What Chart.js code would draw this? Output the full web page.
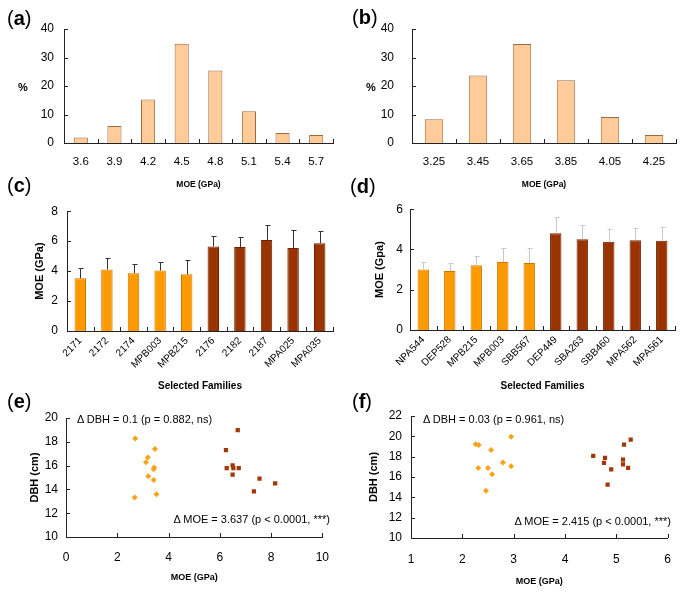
<!DOCTYPE html>
<html>
<head>
<meta charset="utf-8">
<script src="https://cdn.jsdelivr.net/npm/chart.js@4.4.0/dist/chart.umd.min.js"></script>
<style>
  body { margin: 0; background: #fff; width: 685px; height: 593px; position: relative; overflow: hidden;
         font-family: "Liberation Sans", Arial, sans-serif; color: #000; }
  canvas { position: absolute; }
  .lbl { position: absolute; font-size: 20px; line-height: 1; }
  .pct { position: absolute; font-size: 11px; font-weight: bold; line-height: 1; }
  .note { position: absolute; font-size: 11px; line-height: 1; white-space: nowrap; }
</style>
</head>
<body>
<canvas id="ca" width="340" height="195" style="left:0;top:0"></canvas>
<canvas id="cb" width="345" height="195" style="left:340px;top:0"></canvas>
<canvas id="cc" width="340" height="200" style="left:0;top:195px"></canvas>
<canvas id="cd" width="345" height="200" style="left:340px;top:195px"></canvas>
<canvas id="ce" width="342" height="203" style="left:0;top:390px"></canvas>
<canvas id="cf" width="345" height="203" style="left:340px;top:390px"></canvas>

<div class="lbl" style="left:7px;top:8px">(<b>a</b>)</div>
<div class="lbl" style="left:352px;top:7px">(<b>b</b>)</div>
<div class="lbl" style="left:7px;top:175px">(<b>c</b>)</div>
<div class="lbl" style="left:350px;top:176px">(<b>d</b>)</div>
<div class="lbl" style="left:7px;top:391px">(<b>e</b>)</div>
<div class="lbl" style="left:352px;top:391px">(<b>f</b>)</div>
<div class="pct" style="left:18px;top:82px">%</div>
<div class="pct" style="left:366px;top:82px">%</div>
<div class="note" style="left:77px;top:414px">&Delta; DBH = 0.1 (p = 0.882, ns)</div>
<div class="note" style="right:355px;top:514px">&Delta; MOE = 3.637 (p &lt; 0.0001, ***)</div>
<div class="note" style="left:423px;top:414px">&Delta; DBH = 0.03 (p = 0.961, ns)</div>
<div class="note" style="right:14px;top:516px">&Delta; MOE = 2.415 (p &lt; 0.0001, ***)</div>

<script>
// (a) / (b) MOE distributions, % of trees
const histALabels = ['3.6', '3.9', '4.2', '4.5', '4.8', '5.1', '5.4', '5.7'];
const histAValues = [1.9, 6.0, 15.3, 34.8, 25.4, 11.1, 3.5, 2.8];
const histBLabels = ['3.25', '3.45', '3.65', '3.85', '4.05', '4.25'];
const histBValues = [8.3, 23.7, 34.7, 22.0, 9.1, 2.8];

// (c) / (d) selected families, mean MOE and SD
const famC = ['2171', '2172', '2174', 'MPB003', 'MPB215', '2176', '2182', '2187', 'MPA025', 'MPA035'];
const moeC = [3.52, 4.10, 3.86, 4.04, 3.79, 5.65, 5.61, 6.07, 5.55, 5.86];
const sdC  = [0.69, 0.76, 0.60, 0.55, 0.94, 0.69, 0.66, 1.02, 1.21, 0.79];
const grpC = ['low', 'low', 'low', 'low', 'low', 'high', 'high', 'high', 'high', 'high'];
const famD = ['NPA544', 'DEP528', 'MPB215', 'MPB003', 'SBB567', 'DEP449', 'SBA263', 'SBB460', 'MPA562', 'MPA561'];
const moeD = [3.00, 2.93, 3.22, 3.38, 3.33, 4.80, 4.51, 4.38, 4.46, 4.43];
const sdD  = [0.36, 0.38, 0.48, 0.67, 0.72, 0.81, 0.70, 0.66, 0.63, 0.70];
const grpD = ['low', 'low', 'low', 'low', 'low', 'high', 'high', 'high', 'high', 'high'];

// (e) / (f) DBH vs MOE for low and high groups
const eLowMoe  = [2.70, 3.47, 3.19, 3.12, 3.44, 3.42, 3.21, 3.42, 3.53, 2.68];
const eLowDbh  = [18.27, 17.40, 16.68, 16.29, 15.85, 15.69, 15.10, 14.79, 13.60, 13.32];
const eHighMoe = [6.70, 6.24, 6.27, 6.50, 6.53, 6.74, 6.50, 7.55, 8.16, 7.33];
const eHighDbh = [18.99, 17.31, 15.79, 16.02, 15.79, 15.79, 15.24, 14.91, 14.50, 13.84];
const fLowMoe  = [2.26, 2.32, 2.95, 2.56, 2.79, 2.31, 2.50, 2.95, 2.58, 2.46];
const fLowDbh  = [19.22, 19.15, 19.97, 18.66, 17.42, 16.89, 16.89, 17.06, 16.27, 14.64];
const fHighMoe = [4.55, 4.78, 4.76, 4.90, 4.83, 5.13, 5.13, 5.15, 5.28, 5.23];
const fHighDbh = [18.07, 17.87, 17.38, 16.76, 15.26, 17.71, 17.25, 19.19, 19.68, 16.89];

const ORANGE = '#ff9900', BROWN = '#993300', PEACH = '#ffcc99', AXIS = '#222';

Chart.defaults.font.family = '"Liberation Sans", Arial, sans-serif';
Chart.defaults.color = '#000';
Chart.defaults.animation = false;

// excel style tick marks pointing into the plot
const insideTicks = {
  id: 'insideTicks',
  afterDraw(chart) {
    const ctx = chart.ctx, a = chart.chartArea;
    const x = chart.scales.x, y = chart.scales.y;
    let xs = [];
    if (x.type === 'category') {
      const n = x.getLabels().length;
      for (let i = 0; i <= n; i++) xs.push(x.left + x.width * i / n);
    } else {
      xs = x.ticks.map(t => x.getPixelForValue(t.value));
    }
    ctx.save();
    ctx.strokeStyle = AXIS;
    ctx.lineWidth = 1;
    ctx.beginPath();
    xs.forEach(px => {
      px = Math.round(px) + 0.5;
      ctx.moveTo(px, a.bottom);
      ctx.lineTo(px, a.bottom - 4);
    });
    y.ticks.forEach(t => {
      const py = Math.round(y.getPixelForValue(t.value)) + 0.5;
      ctx.moveTo(a.left, py);
      ctx.lineTo(a.left + 4, py);
    });
    ctx.stroke();
    ctx.restore();
  }
};

// upper error bars (+SD)
const errorBars = {
  id: 'errorBars',
  afterDatasetsDraw(chart, args, opts) {
    const ds = chart.data.datasets[0];
    if (!ds.errors) return;
    const ctx = chart.ctx, y = chart.scales.y;
    ctx.save();
    ctx.strokeStyle = opts.color || '#333';
    ctx.lineWidth = 1;
    ctx.beginPath();
    chart.getDatasetMeta(0).data.forEach((bar, i) => {
      const px = Math.round(bar.x) + 0.5;
      const top = Math.round(y.getPixelForValue(ds.data[i] + ds.errors[i])) + 0.5;
      ctx.moveTo(px, bar.y);
      ctx.lineTo(px, top);
      ctx.moveTo(px - 2, top);
      ctx.lineTo(px + 3, top);
    });
    ctx.stroke();
    ctx.restore();
  }
};

function axisBase(size, horizontal) {
  return {
    grid: { display: false, drawTicks: false },
    border: { display: true, color: AXIS, width: 1 },
    afterFit(s) { if (horizontal) s.height = size; else s.width = size; }
  };
}

function xTitle(text, size, bottom) {
  return { display: true, text: text, font: { size: size, weight: 'bold' }, padding: { top: 0, bottom: bottom } };
}
function yTitle(text, size, top) {
  return { display: true, text: text, font: { size: size, weight: 'bold' }, padding: { top: top, bottom: 0 } };
}

function histChart(id, labels, values, pad, yWidth, yPad, xHeight) {
  return new Chart(document.getElementById(id), {
    type: 'bar',
    data: {
      labels: labels,
      datasets: [{
        data: values,
        backgroundColor: PEACH,
        borderColor: '#9a6a45',
        borderWidth: 1,
        barPercentage: 0.42,
        categoryPercentage: 1
      }]
    },
    options: {
      responsive: false,
      layout: { padding: pad },
      plugins: { legend: { display: false }, tooltip: { enabled: false } },
      scales: {
        x: Object.assign(axisBase(xHeight, true), {
          ticks: { font: { size: 11.5 }, padding: 12 },
          title: xTitle('MOE (GPa)', 8.5, 5)
        }),
        y: Object.assign(axisBase(yWidth, false), {
          min: 0, max: 40,
          ticks: { stepSize: 10, font: { size: 12 }, padding: yPad }
        })
      }
    },
    plugins: [insideTicks]
  });
}

function familyChart(id, labels, values, errors, groups, yMax, yLabel, errColor, pad, yWidth, yPad, xHeight) {
  return new Chart(document.getElementById(id), {
    type: 'bar',
    data: {
      labels: labels,
      datasets: [{
        data: values,
        errors: errors,
        backgroundColor: groups.map(g => g === 'low' ? ORANGE : BROWN),
        borderColor: groups.map(g => g === 'low' ? '#c87800' : '#6e2400'),
        borderWidth: 1,
        barPercentage: 0.43,
        categoryPercentage: 1
      }]
    },
    options: {
      responsive: false,
      layout: { padding: pad },
      plugins: { legend: { display: false }, tooltip: { enabled: false }, errorBars: { color: errColor } },
      scales: {
        x: Object.assign(axisBase(xHeight, true), {
          ticks: { font: { size: 10 }, padding: 4, minRotation: 45, maxRotation: 45, autoSkip: false },
          title: xTitle('Selected Families', 10, 3)
        }),
        y: Object.assign(axisBase(yWidth, false), {
          min: 0, max: yMax,
          ticks: { stepSize: 2, font: { size: 12 }, padding: yPad },
          title: yTitle(yLabel, 11, 1)
        })
      }
    },
    plugins: [insideTicks, errorBars]
  });
}

function scatterChart(id, lowX, lowY, highX, highY, xr, yr, pad, yWidth, yPad, yTitlePad, xHeight, xPad, xTitlePad) {
  const pts = (xs, ys) => xs.map((v, i) => ({ x: v, y: ys[i] }));
  return new Chart(document.getElementById(id), {
    type: 'scatter',
    data: {
      datasets: [
        { data: pts(lowX, lowY), pointStyle: 'rectRot', radius: 3, backgroundColor: '#f7a21b', borderColor: '#f7a21b', borderWidth: 0 },
        { data: pts(highX, highY), pointStyle: 'rect', radius: 3, backgroundColor: '#a0380a', borderColor: '#a0380a', borderWidth: 0 }
      ]
    },
    options: {
      responsive: false,
      layout: { padding: pad },
      plugins: { legend: { display: false }, tooltip: { enabled: false } },
      scales: {
        x: Object.assign(axisBase(xHeight, true), {
          type: 'linear', min: xr[0], max: xr[1],
          ticks: { stepSize: xr[2], font: { size: 12 }, padding: xPad },
          title: xTitle('MOE (GPa)', 9, xTitlePad)
        }),
        y: Object.assign(axisBase(yWidth, false), {
          min: yr[0], max: yr[1],
          ticks: { stepSize: yr[2], font: { size: 12 }, padding: yPad },
          title: yTitle('DBH (cm)', 11, yTitlePad)
        })
      }
    },
    plugins: [insideTicks]
  });
}

histChart('ca', histALabels, histAValues, { left: 0, top: 29, right: 7, bottom: 0 }, 64, 10, 52);
histChart('cb', histBLabels, histBValues, { left: 0, top: 29, right: 9, bottom: 0 }, 72, 18, 52);
familyChart('cc', famC, moeC, sdC, grpC, 8, 'MOE (GPa)', '#333', { left: 32, top: 8, right: 7, bottom: 0 }, 35, 9, 64);
familyChart('cd', famD, moeD, sdD, grpD, 6, 'MOE (Gpa)', '#c8c8c8', { left: 32, top: 10, right: 10, bottom: 0 }, 38, 7, 65);
scatterChart('ce', eLowMoe, eLowDbh, eHighMoe, eHighDbh, [0, 10, 2], [10, 20, 2],
  { left: 28, top: 28, right: 9, bottom: 0 }, 38, 8, 0, 56, 13, 10);
scatterChart('cf', fLowMoe, fLowDbh, fHighMoe, fHighDbh, [1, 6, 1], [10, 22, 2],
  { left: 26, top: 26, right: 14, bottom: 0 }, 45, 9, 1, 55, 14, 6);
</script>
</body>
</html>
